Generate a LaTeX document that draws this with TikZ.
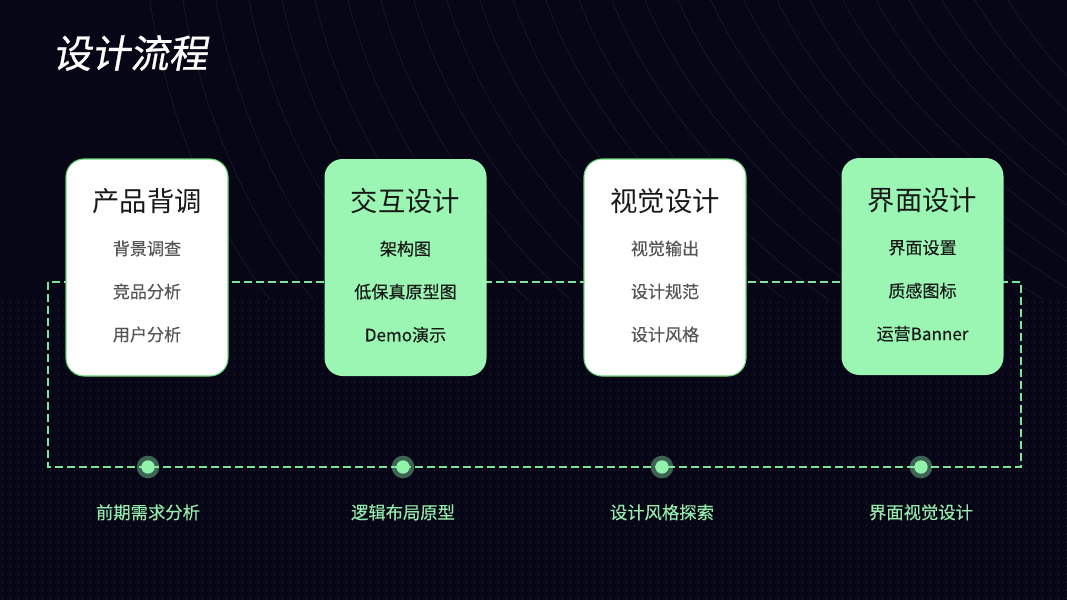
\documentclass[tikz,border=0pt]{standalone}
\usepackage{fontspec}
\setmainfont{Noto Sans CJK SC}
\newfontfamily\titlefont{Noto Sans CJK SC}[FakeSlant=0.18,FakeBold=0.7]
\newfontfamily\medfont{Noto Sans CJK SC}[FakeBold=0.3]
\definecolor{bgnavy}{RGB}{6,6,22}
\definecolor{dotgrey}{RGB}{28,30,46}
\definecolor{cardgreen}{RGB}{155,246,180}
\definecolor{edgegreen}{RGB}{100,214,118}
\definecolor{dashgreen}{RGB}{125,230,155}
\definecolor{pointgreen}{RGB}{145,242,172}
\definecolor{labelgreen}{RGB}{150,235,172}
\definecolor{itemgrey}{RGB}{85,85,85}
\definecolor{inkblack}{RGB}{24,24,24}
\begin{document}
\begin{tikzpicture}[x=0.75pt,y=-0.75pt,
    bgline/.style={white,opacity=0.07,line width=0.6pt},
    card/.style={rounded corners=13.5pt,minimum width=121.5pt,minimum height=162.75pt,inner sep=0pt},
    whitecard/.style={card,fill=white,draw=edgegreen,line width=0.8pt},
    greencard/.style={card,fill=cardgreen},
    cardtitle/.style={font=\fontsize{20.5}{23}\selectfont,text=inkblack},
    item/.style={font=\medfont\fontsize{12.8}{14}\selectfont},
    stagelabel/.style={font=\medfont\fontsize{13}{15}\selectfont,text=labelgreen},
    flow/.style={dashgreen,line width=1pt,dash pattern=on 6pt off 3pt}]
\useasboundingbox (0,0) rectangle (1067,600);
\fill[bgnavy] (0,0) rectangle (1067,600);
% faint curves in the upper half
\foreach \i in {0,...,26}
    \draw[bgline] ({150+\i*33},0) .. controls ({165+\i*35},110) and ({210+\i*39},220) .. ({270+\i*43},300);
% dotted grid in the lower half
\foreach \j in {0,...,37}
    \draw[dotgrey,line width=1.1pt,dash pattern=on 1.1pt off 4.9pt] (2,{302+\j*8}) -- (1067,{302+\j*8});
\node[font=\titlefont\fontsize{29}{32}\selectfont,text=white,anchor=west] (title) at (48,53) {设计流程};
% dashed frame
\coordinate (tl) at (48,282);
\coordinate (br) at (1021,467);
\draw[flow] (tl) rectangle (br);
% cards
\node[whitecard] (c1) at (147,267.5) {};
\node[greencard] (c2) at (405.5,267.5) {};
\node[whitecard] (c3) at (665,267.5) {};
\node[greencard] (c4) at (922.5,266.5) {};
\foreach \n/\t/\a/\b/\c/\col in {c1/产品背调/背景调查/竞品分析/用户分析/itemgrey,
        c2/交互设计/架构图/低保真原型图/Demo演示/inkblack,
        c3/视觉设计/视觉输出/设计规范/设计风格/itemgrey,
        c4/界面设计/界面设置/质感图标/运营Banner/inkblack} {
    \node[cardtitle] (\n-t) at ([yshift=-32pt]\n.north) {\t};
    \node[item,text=\col] (\n-a) at ([yshift=-67.5pt]\n.north) {\a};
    \node[item,text=\col] (\n-b) at ([yshift=-99.75pt]\n.north) {\b};
    \node[item,text=\col] (\n-c) at ([yshift=-132pt]\n.north) {\c};
}
% stage points and labels
\foreach \n/\x/\t in {p1/148/前期需求分析,p2/403/逻辑布局原型,p3/662/设计风格探索,p4/921/界面视觉设计} {
    \fill[pointgreen,opacity=0.4] (\x,467) circle (8.5pt);
    \node[circle,fill=pointgreen,inner sep=0pt,minimum size=10pt] (\n) at (\x,467) {};
    \node[stagelabel] (\n-l) at ([yshift=-34pt]\n.center) {\t};
}
\end{tikzpicture}
\end{document}
